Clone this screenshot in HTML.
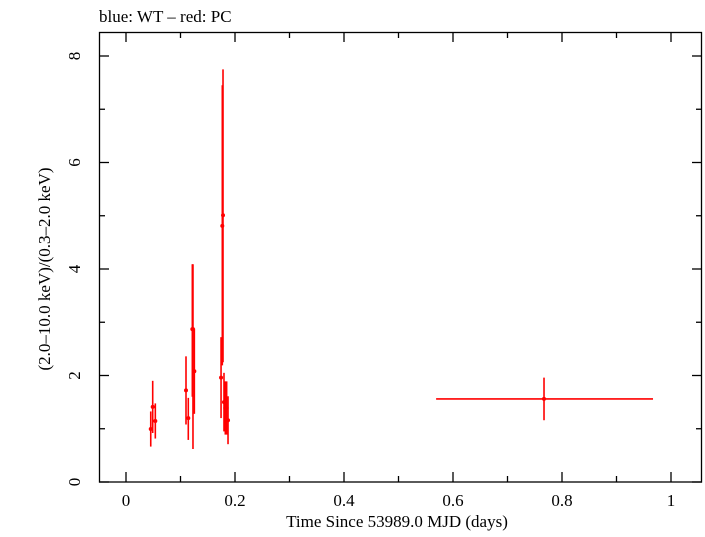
<!DOCTYPE html>
<html><head><meta charset="utf-8"><style>
body{margin:0;background:#fff}
svg text{font-family:"Liberation Serif",serif;fill:#000}
</style></head><body>
<svg id="chart" width="705" height="532" xmlns="http://www.w3.org/2000/svg">
<text x="99" y="22" font-size="17">blue: WT – red: PC</text>
<rect x="99.5" y="32.5" width="602" height="449.5" fill="none" stroke="#000" stroke-width="1.3"/>
<g id="axes"></g>
<g id="marks"></g>
<text x="397" y="527" font-size="17" text-anchor="middle">Time Since 53989.0 MJD (days)</text>
<text transform="translate(50,269) rotate(-90)" font-size="17" text-anchor="middle">(2.0–10.0 keV)/(0.3–2.0 keV)</text>
</svg>
<script>
const times=[0.0454,0.0490,0.0538,0.1101,0.1143,0.1217,0.1229,0.1254,0.1744,0.1767,0.1780,0.1798,0.1822,0.1847,0.1872,0.767];
const ratios=[0.995,1.41,1.146,1.72,1.20,2.87,2.87,2.08,1.96,4.81,5.01,1.50,1.39,1.39,1.16,1.56];
const errLo=[0.33,0.49,0.33,0.64,0.41,1.27,2.25,0.80,0.76,2.62,2.76,0.55,0.50,0.50,0.45,0.40];
const errHi=[0.33,0.49,0.33,0.64,0.38,1.22,1.22,0.80,0.76,2.64,2.74,0.55,0.50,0.50,0.45,0.40];
const tLo=[0.001,0.001,0.001,0.001,0.001,0.001,0.001,0.001,0.001,0.001,0.001,0.001,0.001,0.001,0.001,0.198];
const tHi=[0.001,0.001,0.001,0.001,0.001,0.001,0.001,0.001,0.001,0.001,0.001,0.001,0.001,0.001,0.001,0.200];
const xTicks=[0,0.2,0.4,0.6,0.8,1.0];
const xTickLabels=["0","0.2","0.4","0.6","0.8","1"];
const yTicks=[0,2,4,6,8];
const yTickLabels=["0","2","4","6","8"];
const X=t=>126+t*545, Y=v=>482-v*53.25;
const NS="http://www.w3.org/2000/svg";
const ax=document.getElementById('axes'), mk=document.getElementById('marks');
function ln(p,x1,y1,x2,y2,c,w){const l=document.createElementNS(NS,'line');l.setAttribute('x1',x1);l.setAttribute('y1',y1);l.setAttribute('x2',x2);l.setAttribute('y2',y2);l.setAttribute('stroke',c);l.setAttribute('stroke-width',w);p.appendChild(l);return l;}
for(let t=0;t<=1.05;t+=0.1){const x=X(t);const maj=Math.abs(Math.round(t*10)%2)==0;const L=maj?10:6;
const a=ln(ax,x,482,x,482-L,'#000',1.3);


const b=ln(ax,x,32,x,32+L,'#000',1.3);

}
for(let v=0;v<=8;v++){const y=Y(v);const L=v%2==0?10:6;
const a=ln(ax,99,y,99+L,y,'#000',1.3);


const b=ln(ax,702,y,702-L,y,'#000',1.3);

}
xTicks.forEach((t,i)=>{const tx=document.createElementNS(NS,'text');


tx.setAttribute('x',X(t));tx.setAttribute('y',506);tx.setAttribute('font-size','17');tx.setAttribute('text-anchor','middle');tx.textContent=xTickLabels[i];ax.appendChild(tx);});
yTicks.forEach((v,i)=>{const tx=document.createElementNS(NS,'text');


tx.setAttribute('transform','translate(80,'+Y(v)+') rotate(-90)');tx.setAttribute('font-size','17');tx.setAttribute('text-anchor','middle');tx.textContent=yTickLabels[i];ax.appendChild(tx);});
times.forEach((t,i)=>{const g=document.createElementNS(NS,'g');


ln(g,X(t),Y(ratios[i]-errLo[i]),X(t),Y(ratios[i]+errHi[i]),'#f00',1.6);
ln(g,X(t-tLo[i]),Y(ratios[i]),X(t+tHi[i]),Y(ratios[i]),'#f00',1.6);
const c=document.createElementNS(NS,'circle');c.setAttribute('cx',X(t));c.setAttribute('cy',Y(ratios[i]));c.setAttribute('r',2);c.setAttribute('fill','#f00');g.appendChild(c);
mk.appendChild(g);});
</script>
</body></html>
